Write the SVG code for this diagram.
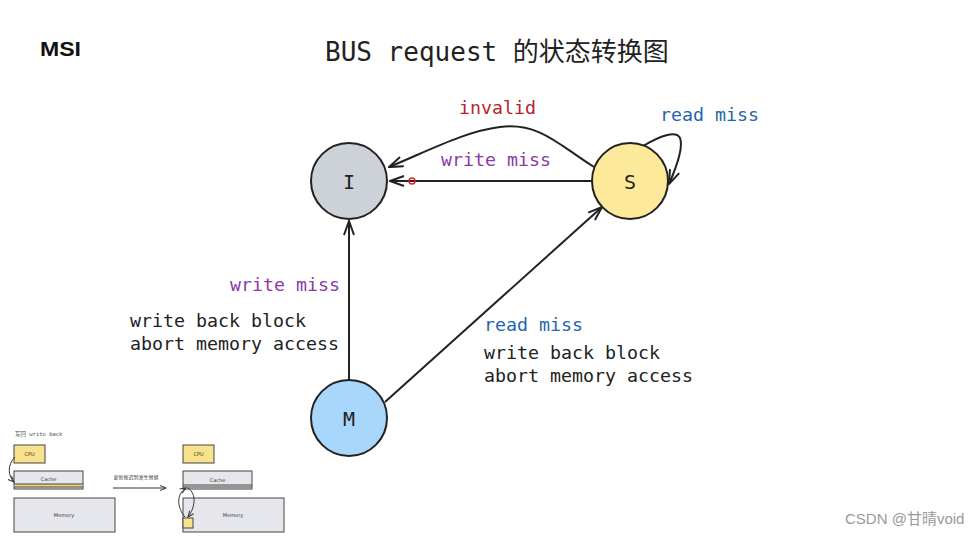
<svg xmlns="http://www.w3.org/2000/svg" width="980" height="536" viewBox="0 0 980 536">
<style>
.mono{font-family:"DejaVu Sans Mono","Liberation Mono","Noto Sans CJK SC",monospace;}
.lbl{font-size:18.3px;}
.blk{fill:#222;}
.red{fill:#b3262e;}
.pur{fill:#8b3aa6;}
.blu{fill:#1f68a8;}
.node{stroke:#222;stroke-width:2;}
.edge{fill:none;stroke:#222;stroke-width:2;}
.mini{stroke:#444;stroke-width:1;}
.mtxt{font-family:"DejaVu Sans","Noto Sans CJK SC",sans-serif;font-size:5px;fill:#333;text-anchor:middle;}
</style>
<defs>
<marker id="oa" markerUnits="userSpaceOnUse" viewBox="0 0 16 12" refX="15" refY="6" markerWidth="16" markerHeight="12" orient="auto">
<path d="M1,1 L15,6 L1,11" fill="none" stroke="#222" stroke-width="2"/>
</marker>
<marker id="sa" markerUnits="userSpaceOnUse" viewBox="0 0 8 6" refX="7" refY="3" markerWidth="8" markerHeight="6" orient="auto">
<path d="M1,0.5 L7,3 L1,5.5" fill="none" stroke="#333" stroke-width="1"/>
</marker>
</defs>
<rect width="980" height="536" fill="#fff"/>
<text x="40" y="56" font-family="Liberation Sans,Arial,sans-serif" font-weight="bold" font-size="20" textLength="41" lengthAdjust="spacingAndGlyphs" fill="#111">MSI</text>
<text x="325" y="61" class="mono" font-size="26" fill="#222">BUS request <tspan font-family="Noto Sans CJK SC,sans-serif">的状态转换图</tspan></text>

<g id="connectors">
<path class="edge" d="M592,181 L390,181" marker-end="url(#oa)"/>
<path class="edge" d="M594,167 C560,146 540,122 500,127 C466,131 430,150 389,167" marker-end="url(#oa)"/>
<path class="edge" d="M643,146 C660,136 676,130 680,138 C684,148 676,168 669,184" marker-end="url(#oa)"/>
<path class="edge" d="M349,381 L349,221" marker-end="url(#oa)"/>
<path class="edge" d="M385,402 L602,207" marker-end="url(#oa)"/>
</g>

<g id="node-I"><circle class="node" cx="349" cy="181" r="38" fill="#cdd1d8"/><text x="349" y="189" class="mono blk" font-size="20" text-anchor="middle">I</text></g>
<g id="node-S"><circle class="node" cx="630" cy="181" r="38" fill="#fde99a"/><text x="630" y="189" class="mono blk" font-size="20" text-anchor="middle">S</text></g>
<g id="node-M"><circle class="node" cx="349" cy="418" r="38" fill="#a9d6fb"/><text x="349" y="426" class="mono blk" font-size="20" text-anchor="middle">M</text></g>

<g id="labels" class="mono lbl">
<text x="459" y="114" class="red">invalid</text>
<text x="441" y="166" class="pur">write miss</text>
<text x="660" y="121" class="blu">read miss</text>
<text x="230" y="291" class="pur">write miss</text>
<text x="130" y="327" class="blk">write back block</text>
<text x="130" y="350" class="blk">abort memory access</text>
<text x="484" y="331" class="blu">read miss</text>
<text x="484" y="359" class="blk">write back block</text>
<text x="484" y="382" class="blk">abort memory access</text>
</g>
<circle cx="412" cy="181" r="3" fill="none" stroke="#e0202a" stroke-width="1.5"/>

<g id="mini">
<text x="15" y="436" font-family="DejaVu Sans Mono,Noto Sans CJK SC,monospace" font-size="5.5" fill="#555">写回 write back</text>
<rect class="mini" x="14" y="445" width="31" height="18" fill="#f8e28c"/>
<text class="mtxt" x="29.5" y="456">CPU</text>
<rect class="mini" x="14" y="471" width="69" height="18" fill="#e6e7ec"/>
<rect x="14.5" y="484" width="68" height="3" fill="#e9d77a"/>
<line class="mini" x1="14" y1="484" x2="83" y2="484"/>
<line class="mini" x1="14" y1="487" x2="83" y2="487"/>
<text class="mtxt" x="48.5" y="481">Cache</text>
<path d="M15,457 C7,465 8,476 14,482" fill="none" stroke="#333" stroke-width="1" marker-end="url(#sa)"/>
<rect class="mini" x="14" y="498" width="101" height="34" fill="#e6e7ec"/>
<text class="mtxt" x="64" y="517">Memory</text>

<text x="136" y="479" font-family="Noto Sans CJK SC,sans-serif" font-size="5" fill="#444" text-anchor="middle">更新推迟到发生替换</text>
<line x1="113" y1="488" x2="166" y2="488" stroke="#333" stroke-width="1" marker-end="url(#sa)"/>

<rect class="mini" x="183" y="445" width="31" height="18" fill="#f8e28c"/>
<text class="mtxt" x="198.5" y="456">CPU</text>
<rect class="mini" x="183" y="471" width="69" height="18" fill="#e6e7ec"/>
<line class="mini" x1="183" y1="485" x2="252" y2="485"/>
<line class="mini" x1="183" y1="487" x2="252" y2="487"/>
<text class="mtxt" x="217.5" y="482">Cache</text>
<rect class="mini" x="183" y="498" width="101" height="34" fill="#e6e7ec"/>
<text class="mtxt" x="233" y="517">Memory</text>
<rect class="mini" x="183" y="518" width="10" height="10" fill="#f8e28c"/>
<path d="M185,517 C177,508 176,494 186,488" fill="none" stroke="#333" stroke-width="1" marker-end="url(#sa)"/>
<path d="M188,488 C197,494 195,508 188,517" fill="none" stroke="#333" stroke-width="1" marker-end="url(#sa)"/>
</g>

<text x="845" y="524" font-family="Liberation Sans,Noto Sans CJK SC,sans-serif" font-size="15" fill="#999">CSDN @甘晴void</text>
</svg>
